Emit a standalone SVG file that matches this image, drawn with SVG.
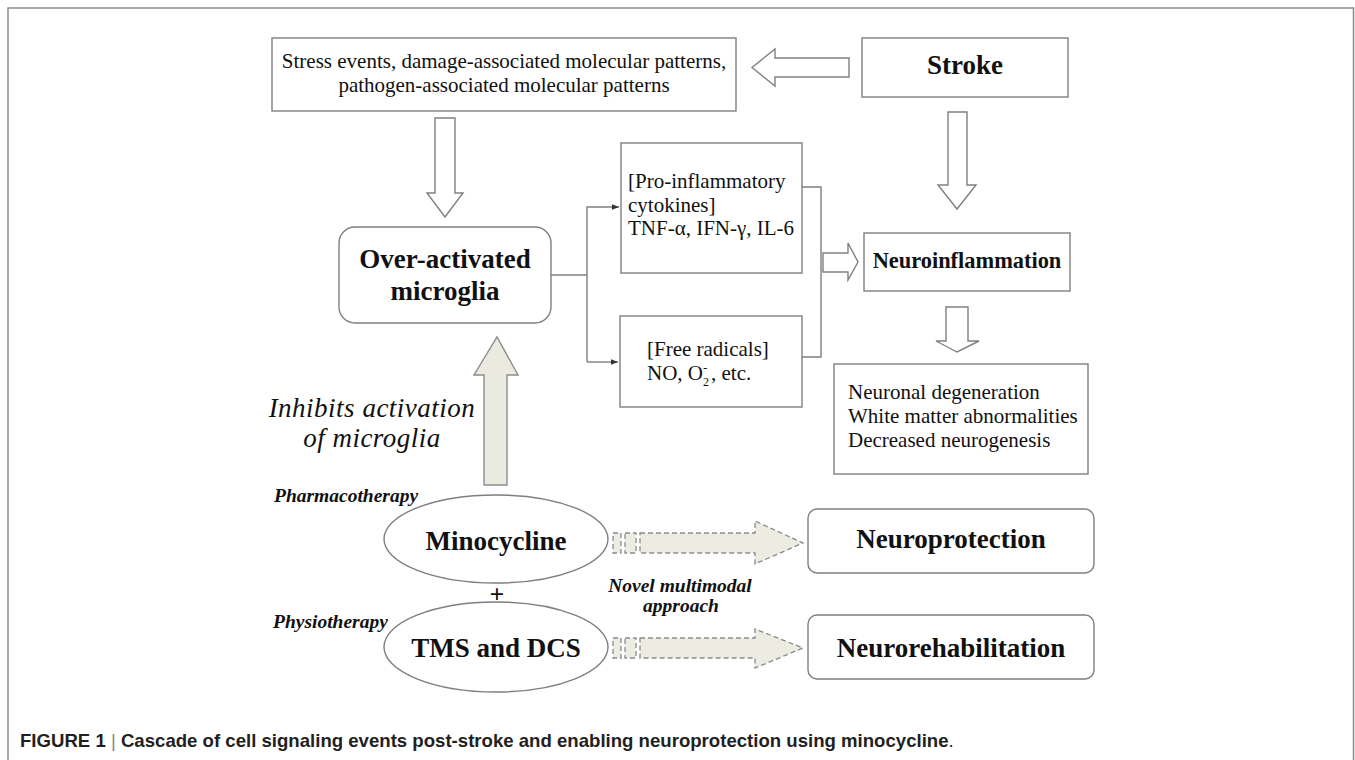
<svg xmlns="http://www.w3.org/2000/svg" width="1355" height="760" viewBox="0 0 1355 760">
<style>
.box{fill:#fff;stroke:#7f7f7f;stroke-width:1.4}
.hollow{fill:#fff;stroke:#808080;stroke-width:1.4;stroke-linejoin:miter}
.line{fill:none;stroke:#7f7f7f;stroke-width:1.4}
.dash{fill:#edece2;stroke:#8a8a8a;stroke-width:1.3;stroke-dasharray:5 3}
.t{font-family:"Liberation Serif","Times New Roman",serif;fill:#111}
.r{font-size:21px}
.b{font-size:27px;font-weight:bold;text-anchor:middle}
.bi{font-size:19.5px;font-weight:bold;font-style:italic}
.cap{font-family:"Liberation Sans",Arial,sans-serif;font-size:18.6px;fill:#231f20}
</style>
<defs>
<marker id="ah" viewBox="0 0 10 10" refX="10" refY="5" markerWidth="7" markerHeight="7" markerUnits="userSpaceOnUse" orient="auto">
<path d="M0,1 L10,5 L0,9 z" fill="#333"/>
</marker>
</defs>
<rect width="1355" height="760" fill="#fff"/>
<path d="M8,760 V8 H1353.5 V760" fill="none" stroke="#8c8c8c" stroke-width="1.5"/>

<g id="stress">
<rect class="box" x="272" y="38" width="464" height="73"/>
<text class="t r" x="504" y="68" text-anchor="middle">Stress events, damage-associated molecular patterns,</text>
<text class="t r" x="504" y="92" text-anchor="middle">pathogen-associated molecular patterns</text>
</g>
<g id="stroke">
<rect class="box" x="862" y="38" width="206" height="59"/>
<text class="t b" x="965" y="74">Stroke</text>
</g>
<g id="microglia">
<rect class="box" x="339" y="227" width="212" height="96" rx="16"/>
<text class="t b" x="445" y="268">Over-activated</text>
<text class="t b" x="445" y="300">microglia</text>
</g>
<g id="cytokines">
<rect class="box" x="621" y="143" width="181" height="130"/>
<text class="t r" x="628" y="188">[Pro-inflammatory</text>
<text class="t r" x="628" y="212">cytokines]</text>
<text class="t r" x="628" y="235">TNF-α, IFN-γ, IL-6</text>
</g>
<g id="radicals">
<rect class="box" x="620" y="316" width="182" height="91"/>
<text class="t r" x="647" y="356">[Free radicals]</text>
<text class="t r" x="647" y="380">NO, O</text>
<text class="t" x="703" y="372" font-size="13">-</text>
<text class="t" x="703" y="386" font-size="12">2</text>
<text class="t r" x="711" y="380">, etc.</text>
</g>
<g id="neuroinflammation">
<rect class="box" x="864" y="233" width="206" height="58"/>
<text class="t" x="967" y="268" font-size="22.4px" font-weight="bold" text-anchor="middle">Neuroinflammation</text>
</g>
<g id="consequences">
<rect class="box" x="834" y="364" width="254" height="110"/>
<text class="t r" x="848" y="399">Neuronal degeneration</text>
<text class="t r" x="848" y="423">White matter abnormalities</text>
<text class="t r" x="848" y="447">Decreased neurogenesis</text>
</g>
<g id="minocycline">
<ellipse class="box" cx="496" cy="539" rx="112" ry="44"/>
<text class="t b" x="496" y="550">Minocycline</text>
</g>
<g id="tms">
<ellipse class="box" cx="496" cy="647" rx="112" ry="45"/>
<text class="t b" x="496" y="657">TMS and DCS</text>
</g>
<g id="neuroprotection">
<rect class="box" x="808" y="509" width="286" height="64" rx="9"/>
<text class="t b" x="951" y="548">Neuroprotection</text>
</g>
<g id="neurorehabilitation">
<rect class="box" x="808" y="615" width="286" height="64" rx="9"/>
<text class="t b" x="951" y="657">Neurorehabilitation</text>
</g>
<g id="labels">
<text class="t" x="372" y="417" font-size="27px" font-style="italic" text-anchor="middle" letter-spacing="0.5">Inhibits activation</text>
<text class="t" x="372" y="447" font-size="27px" font-style="italic" text-anchor="middle" letter-spacing="0.5">of microglia</text>
<text class="t bi" x="274" y="502">Pharmacotherapy</text>
<text class="t bi" x="273" y="628">Physiotherapy</text>
<text class="t" x="497" y="603" font-size="26px" font-weight="bold" text-anchor="middle">+</text>
<text class="t bi" x="680" y="592" font-size="18.5px" text-anchor="middle">Novel multimodal</text>
<text class="t bi" x="681" y="612" font-size="18.5px" text-anchor="middle">approach</text>
</g>

<g id="connectors">
<path class="hollow" d="M849,58 H775 V49 L752,67.5 L775,86 V77 H849 Z"/>
<path class="hollow" d="M948,112 V185 H938 L957,209 L976,185 H967 V112 Z"/>
<path class="hollow" d="M435,118 V193 H427 L445,217 L463,193 H455 V118 Z"/>
<path class="hollow" d="M946,307 V341 H936 L957,352 L979,341 H968 V307 Z"/>
<path class="hollow" d="M823,253 H848 V243 L858,262 L848,280 V272 H823 Z"/>
<path class="line" d="M551,275 H587"/>
<path class="line" d="M587,362 V207 H619" marker-end="url(#ah)"/>
<path class="line" d="M587,362 H618" marker-end="url(#ah)"/>
<path class="line" d="M802,187 H821 V357 H802"/>
<path d="M484,485 V375 H474 L497,337 L518,375 H507 V485 Z" fill="#ebeade" stroke="#8c8c8c" stroke-width="1.4"/>
<rect class="dash" x="613" y="533" width="8" height="20"/>
<rect class="dash" x="625" y="533" width="11" height="20"/>
<path class="dash" d="M640,533 H755 V521 L803,543 L755,564 V553 H640 Z"/>
<rect class="dash" x="613" y="638" width="8" height="20"/>
<rect class="dash" x="625" y="638" width="11" height="20"/>
<path class="dash" d="M640,638 H755 V629 L803,648 L755,668 V658 H640 Z"/>
</g>

<g id="caption">
<text class="cap" x="20" y="747"><tspan font-weight="bold">FIGURE 1</tspan><tspan fill="#888"> | </tspan><tspan font-weight="bold">Cascade of cell signaling events post-stroke and enabling neuroprotection using minocycline</tspan>.</text>
</g>
</svg>
